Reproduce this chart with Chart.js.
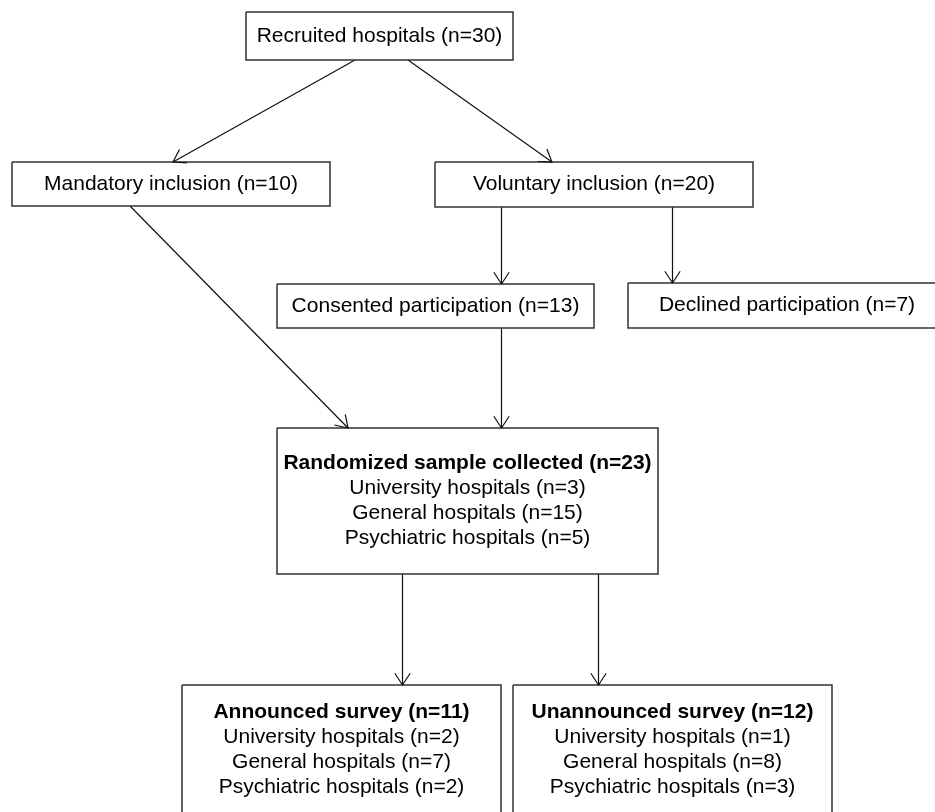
<!DOCTYPE html>
<html>
<head>
<meta charset="utf-8">
<script src="https://cdn.jsdelivr.net/npm/chart.js@4/dist/chart.umd.min.js"></script>
<style>
body{margin:0;background:#fff;}
#wrap{width:935px;height:812px;}
</style>
</head>
<body>
<div id="wrap"><canvas id="flow" width="935" height="812"></canvas></div>
<script>
// box texts
const boxTitles = ['Recruited hospitals', 'Mandatory inclusion', 'Voluntary inclusion',
    'Consented participation', 'Declined participation', 'Randomized sample collected',
    'Announced survey', 'Unannounced survey'];
const boxCounts = [30, 10, 20, 13, 7, 23, 11, 12];
const hospitalTypes = ['University hospitals', 'General hospitals', 'Psychiatric hospitals'];
const randomizedByType = [3, 15, 5];
const announcedByType = [2, 7, 2];
const unannouncedByType = [1, 8, 3];
const breakdowns = {5: randomizedByType, 6: announcedByType, 7: unannouncedByType};

// arrows: from box -> to box
const linkFrom = [0, 0, 1, 2, 2, 3, 5, 5];
const linkTo = [1, 2, 5, 3, 4, 5, 6, 7];

// layout in the flow's coordinate space (x0, x1, y0, y1)
const boxLayout = [
    [246, 513, 12, 60],
    [12, 330, 162, 206],
    [435, 753, 162, 207],
    [277, 594, 284, 328],
    [628, 946, 283, 328],
    [277, 658, 428, 574],
    [182, 501, 685, 815],
    [513, 832, 685, 815]
];
// x where each arrow leaves / enters
const linkAnchors = [[355, 173], [408, 552], [130, 348], [501.5, 501.5], [672.5, 672.5], [501.5, 501.5], [402.5, 402.5], [598.5, 598.5]];

var datasets = [];
boxLayout.forEach((b) => {
    datasets.push({
        data: [{x: b[0], y: b[2]}, {x: b[1], y: b[2]}, {x: b[1], y: b[3]}, {x: b[0], y: b[3]}, {x: b[0], y: b[2]}],
        borderColor: '#333', borderWidth: 1.5, kind: 'box'
    });
});
linkFrom.forEach((f, i) => {
    var t = linkTo[i];
    datasets.push({
        data: [{x: linkAnchors[i][0], y: boxLayout[f][3]}, {x: linkAnchors[i][1], y: boxLayout[t][2]}],
        borderColor: '#111', borderWidth: 1.2, kind: 'arrow'
    });
});
datasets.forEach((d) => {
    d.showLine = true; d.pointRadius = 0; d.fill = false; d.tension = 0;
});

const FONT = '"Liberation Sans", Arial, sans-serif';

const flowPlugin = {
    id: 'flowText',
    afterDatasetsDraw(chart) {
        const ctx = chart.ctx;
        const xs = chart.scales.x, ys = chart.scales.y;
        ctx.save();
        // arrowheads
        chart.data.datasets.forEach((ds, i) => {
            if (ds.kind !== 'arrow') return;
            const pts = chart.getDatasetMeta(i).data;
            const a = pts[0], b = pts[1];
            const ang = Math.atan2(b.y - a.y, b.x - a.x);
            const len = 14, spread = 0.58;
            ctx.strokeStyle = '#111';
            ctx.lineWidth = 1.2;
            ctx.beginPath();
            ctx.moveTo(b.x - len * Math.cos(ang - spread), b.y - len * Math.sin(ang - spread));
            ctx.lineTo(b.x, b.y);
            ctx.lineTo(b.x - len * Math.cos(ang + spread), b.y - len * Math.sin(ang + spread));
            ctx.stroke();
        });
        // texts
        ctx.fillStyle = '#000';
        ctx.textAlign = 'center';
        ctx.textBaseline = 'middle';
        boxTitles.forEach((title, i) => {
            const b = boxLayout[i];
            const cx = xs.getPixelForValue((b[0] + b[1]) / 2);
            const cy = ys.getPixelForValue((b[2] + b[3]) / 2);
            const head = title + ' (n=' + boxCounts[i] + ')';
            const sub = breakdowns[i];
            if (!sub) {
                ctx.font = '21px ' + FONT;
                ctx.fillText(head, cx, cy);
                return;
            }
            const step = 25;
            const top = cy - step * 1.5;
            ctx.font = 'bold 21px ' + FONT;
            ctx.fillText(head, cx, top);
            ctx.font = '21px ' + FONT;
            hospitalTypes.forEach((h, k) => {
                ctx.fillText(h + ' (n=' + sub[k] + ')', cx, top + step * (k + 1));
            });
        });
        ctx.restore();
    }
};

new Chart(document.getElementById('flow'), {
    type: 'scatter',
    data: {datasets: datasets},
    options: {
        responsive: false,
        animation: false,
        layout: {padding: 0},
        plugins: {legend: {display: false}, tooltip: {enabled: false}},
        scales: {
            x: {type: 'linear', min: 0, max: 935, display: false},
            y: {type: 'linear', min: 0, max: 812, reverse: true, display: false}
        }
    },
    plugins: [flowPlugin]
});
</script>
</body>
</html>
